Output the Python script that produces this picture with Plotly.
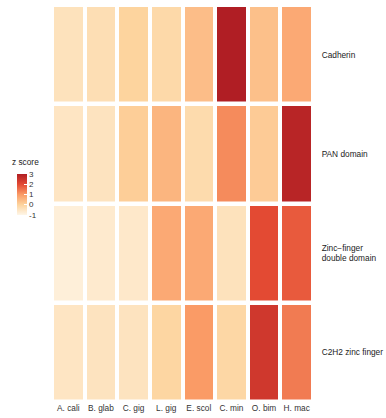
import plotly.graph_objects as go

# Species (columns) and protein domains (rows)
species = ["A. cali", "B. glab", "C. gig", "L. gig", "E. scol", "C. min", "O. bim", "H. mac"]
domains = ["Cadherin", "PAN domain", "Zinc\u2212finger<br>double domain", "C2H2 zinc finger"]

# z scores per domain, one value per species
cadherin = [-0.4, -0.3, 0.0, -0.15, 0.4, 3.0, 0.35, 0.75]
pan_domain = [-0.5, -0.45, 0.1, 0.55, -0.2, 1.2, 0.15, 2.85]
zinc_double = [-0.8, -0.65, -0.6, 0.75, 0.75, -0.4, 2.0, 1.8]
c2h2 = [-0.5, -0.45, -0.45, -0.05, 1.0, -0.1, 2.4, 1.4]

z = [cadherin, pan_domain, zinc_double, c2h2]

colorscale = [
    [0.0, "#FEF6E8"],
    [0.25, "#FDD49E"],
    [0.5, "#FA9B66"],
    [0.75, "#E34A33"],
    [1.0, "#B01E24"],
]

FONT = "Liberation Sans, Arial, sans-serif"

fig = go.Figure(
    go.Heatmap(
        z=z,
        x=species,
        y=domains,
        zmin=-1,
        zmax=3,
        colorscale=colorscale,
        xgap=4,
        ygap=4.5,
        hoverongaps=False,
        colorbar=dict(
            xref="container",
            yref="container",
            x=17 / 386,
            xanchor="left",
            y=1 - 183 / 418,
            yanchor="top",
            lenmode="pixels",
            len=41,
            thickness=10,
            xpad=0,
            ypad=0,
            outlinewidth=0,
            tickvals=[-1, 0, 1, 2, 3],
            ticktext=["-1", "0", "1", "2", "3"],
            ticks="inside",
            ticklen=3,
            tickcolor="white",
            tickfont=dict(size=8, color="#333"),
        ),
    )
)

# legend title above the colour bar
fig.add_annotation(
    text="z score",
    xref="x domain",
    yref="y domain",
    x=(9 - 51.5) / 262,
    y=(418 - 16 - 162) / 397,
    xanchor="left",
    yanchor="middle",
    showarrow=False,
    font=dict(size=8.3, color="#222", family=FONT),
)

fig.update_layout(
    width=386,
    height=418,
    margin=dict(l=51.5, r=72.5, t=5, b=16),
    paper_bgcolor="white",
    plot_bgcolor="white",
    font=dict(family=FONT, size=8.3, color="#333"),
)
fig.update_xaxes(
    automargin=False,
    showgrid=False,
    zeroline=False,
    showline=False,
    ticks="",
    tickfont=dict(size=8.3, color="#333"),
)
fig.update_yaxes(
    automargin=False,
    side="right",
    autorange="reversed",
    showgrid=False,
    zeroline=False,
    showline=False,
    ticks="outside",
    ticklen=6,
    tickcolor="white",
    tickfont=dict(size=8.3, color="#222"),
)

fig.write_html("out.html")
